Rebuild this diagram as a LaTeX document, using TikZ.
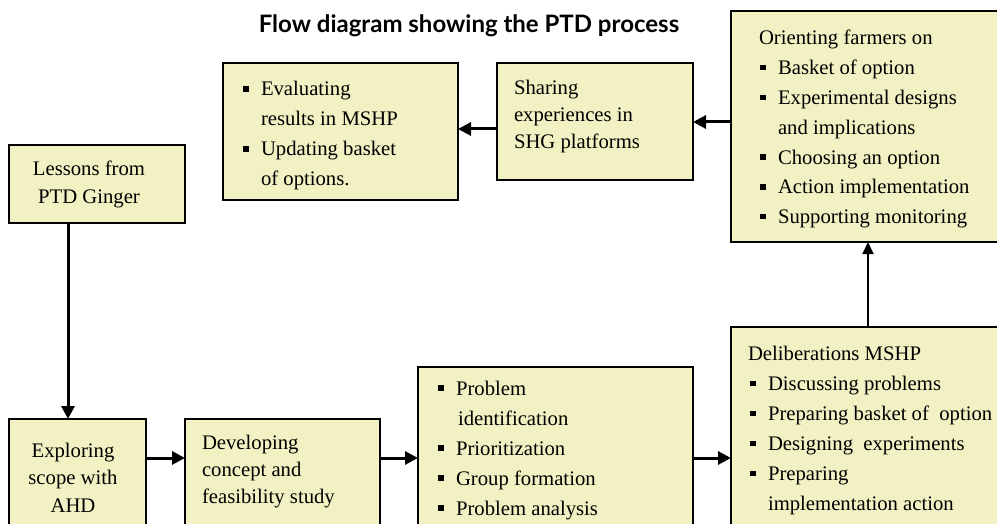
\documentclass[tikz,border=0pt]{standalone}
\usepackage{fontspec}
\setmainfont{Liberation Serif}
\newfontfamily\titlefont{Lato}
\usetikzlibrary{arrows.meta}
\definecolor{boxfill}{HTML}{F2F1C3}
\newcommand{\bu}{\leavevmode\llap{\rule[4.3pt]{5.5pt}{5.5pt}\hspace{12.3pt}}}
\newcommand{\tb}[3]{\parbox[t]{#1pt}{\raggedright\fontsize{20.7}{#2}\selectfont #3}}
\newcommand{\tc}[3]{\parbox[t]{#1pt}{\centering\fontsize{20.7}{#2}\selectfont #3}}
\tikzset{
  box/.style={draw=black, line width=1.3pt, fill=boxfill, anchor=north west, inner sep=0pt, outer sep=0pt},
  txt/.style={anchor=base west, inner sep=0pt, outer sep=0pt},
  ctxt/.style={anchor=base, inner sep=0pt, outer sep=0pt},
  conn/.style={line width=3pt, -{Triangle[length=13pt,width=13pt]}},
  thinconn/.style={line width=1.8pt, -{Triangle[length=12pt,width=11pt]}},
}
\begin{document}
\begin{tikzpicture}[x=1pt,y=-1pt]
\useasboundingbox (0,0) rectangle (997,524);
\clip (0,0) rectangle (997,524);
\fill[white] (0,0) rectangle (997,524);

\node[anchor=base] (title) at (469,33) {\titlefont\bfseries\fontsize{24}{28}\selectfont Flow diagram showing the PTD process};

% boxes
\node[box, minimum width=176pt, minimum height=78pt] (lessons) at (9,145) {};
\node[box, minimum width=137pt, minimum height=130pt] (explore) at (9,419) {};
\node[box, minimum width=195pt, minimum height=130pt] (develop) at (185,419) {};
\node[box, minimum width=275pt, minimum height=180pt] (problem) at (418,367) {};
\node[box, minimum width=280pt, minimum height=220pt] (delib) at (731,327) {};
\node[box, minimum width=280pt, minimum height=231pt] (orient) at (731,11) {};
\node[box, minimum width=196pt, minimum height=117pt] (sharing) at (497,63) {};
\node[box, minimum width=235pt, minimum height=137pt] (evaluate) at (223,63) {};

% texts
\node[ctxt] (lessonsT) at (89,176) {\tc{170}{28}{Lessons from\\PTD Ginger}};
\node[ctxt] (exploreT) at (73,457) {\tc{135}{27.5}{Exploring\\scope with\\AHD}};
\node[txt] (developT) at (202,449) {\tb{180}{27}{Developing\\concept and\\feasibility study}};
\node[txt] (sharingT) at (514,95) {\tb{180}{27}{Sharing\\experiences in\\SHG platforms}};
\node[txt] (evaluateT) at (261,96) {\tb{190}{30}{\bu Evaluating\\results in MSHP\\\bu Updating basket\\of options.}};
\node[txt] (problemT) at (456,395) {\tb{230}{30}{\bu Problem\\\hspace*{2pt}identification\\\bu Prioritization\\\bu Group formation\\\bu Problem analysis}};
\node[txt] (delibT) at (768,360.7) {\tb{240}{30}{\hspace*{-20pt}Deliberations MSHP\\\bu Discussing problems\\\bu Preparing basket of~ option\\\bu Designing~ experiments\\\bu Preparing\\implementation action}};
\node[txt] (orientT) at (778,45) {\tb{230}{29.8}{\hspace*{-19pt}Orienting farmers on\\\bu Basket of option\\\bu Experimental designs\\and implications\\\bu Choosing an option\\\bu Action implementation\\\bu Supporting monitoring}};

% helper coordinates
\coordinate (yrow) at (0,458);
\coordinate (ytopA) at (0,122);
\coordinate (ytopB) at (0,129);
\coordinate (xdown) at (68,0);
\coordinate (xup) at (868,0);

% connectors
\draw[conn] (lessons.south -| xdown) -- (explore.north -| xdown);
\draw[conn] (explore.east |- yrow) -- (develop.west |- yrow);
\draw[conn] (develop.east |- yrow) -- (problem.west |- yrow);
\draw[conn] (problem.east |- yrow) -- (delib.west |- yrow);
\draw[thinconn] (delib.north -| xup) -- (orient.south -| xup);
\draw[conn] (orient.west |- ytopA) -- (sharing.east |- ytopA);
\draw[conn] (sharing.west |- ytopB) -- (evaluate.east |- ytopB);
\end{tikzpicture}
\end{document}
